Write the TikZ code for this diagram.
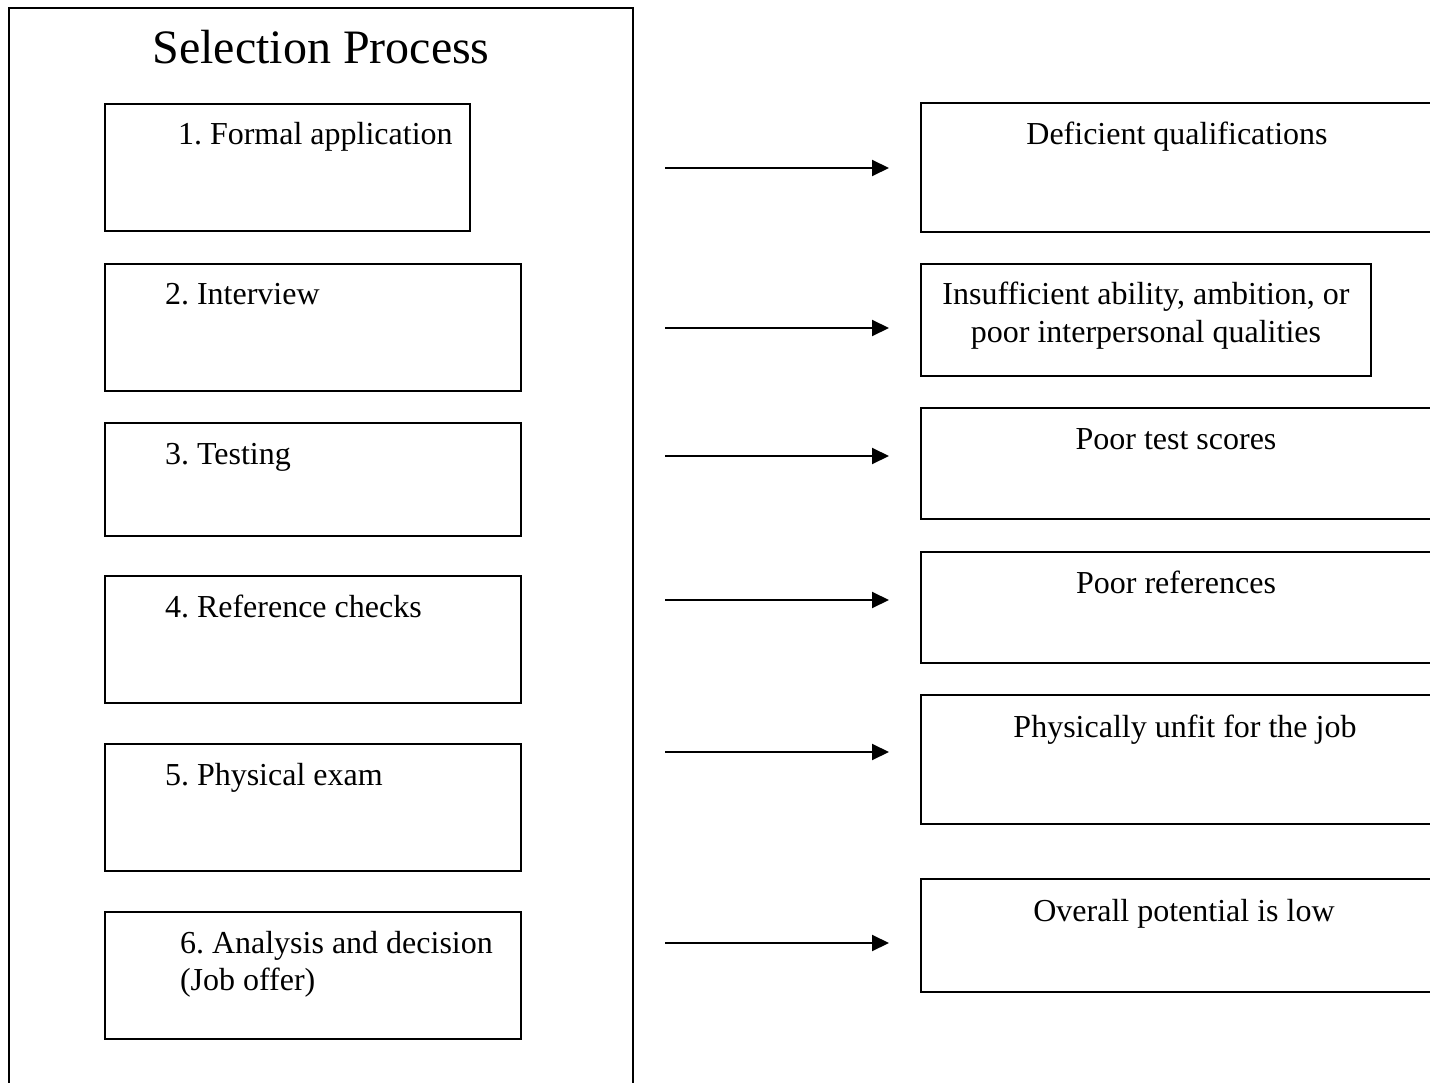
\documentclass[tikz,border=0pt]{standalone}
\usepackage{fontspec}
\setmainfont{Liberation Serif}
\usetikzlibrary{arrows.meta,calc}
\frenchspacing

\tikzset{
  frame/.style={draw=black, line width=1.9pt, inner sep=0pt, outer sep=0pt, rectangle},
  label32/.style={inner sep=0pt, outer sep=0pt, font=\fontsize{32}{37}\selectfont},
  arr/.style={line width=2pt, -{Triangle[length=17pt,width=16pt]}},
}

\begin{document}
\begin{tikzpicture}[x=1pt,y=-1pt]
  \clip (0,0) rectangle (1430,1083);
  \fill[white] (0,0) rectangle (1430,1083);

  % outer frame of the process column (runs off the bottom)
  \node[frame, minimum width=624pt, minimum height=1100pt] (outer) at (321,558) {};
  \node[inner sep=0pt, font=\fontsize{48}{55}\selectfont, anchor=base] (title) at (321,64) {Selection Process};

  % process steps
  \node[frame, minimum width=365pt, minimum height=127pt] (s1) at (287.5,167.5) {};
  \node[frame, minimum width=416pt, minimum height=127pt] (s2) at (313,327.5) {};
  \node[frame, minimum width=416pt, minimum height=113pt] (s3) at (313,479.5) {};
  \node[frame, minimum width=416pt, minimum height=127pt] (s4) at (313,639.5) {};
  \node[frame, minimum width=416pt, minimum height=127pt] (s5) at (313,807.5) {};
  \node[frame, minimum width=416pt, minimum height=127pt] (s6) at (313,975.5) {};

  \node[label32, anchor=base west] (t1) at ($(s1.north west)+(73,41)$) {1. Formal application};
  \node[label32, anchor=base west] (t2) at ($(s2.north west)+(60,41)$) {2. Interview};
  \node[label32, anchor=base west] (t3) at ($(s3.north west)+(60,41)$) {3. Testing};
  \node[label32, anchor=base west] (t4) at ($(s4.north west)+(60,41)$) {4. Reference checks};
  \node[label32, anchor=base west] (t5) at ($(s5.north west)+(60,41)$) {5. Physical exam};
  % two-line label: base is the baseline of its last line
  \node[label32, anchor=base west, align=left] (t6) at ($(s6.north west)+(75,78)$) {6. Analysis and decision\\(Job offer)};

  % rejection reasons (boxes run off the right edge)
  \node[frame, minimum width=512pt, minimum height=129pt] (r1) at (1177,167.5) {};
  \node[frame, minimum width=450pt, minimum height=112pt] (r2) at (1146,320) {};
  \node[frame, minimum width=512pt, minimum height=111pt] (r3) at (1177,463.5) {};
  \node[frame, minimum width=512pt, minimum height=111pt] (r4) at (1177,607.5) {};
  \node[frame, minimum width=512pt, minimum height=129pt] (r5) at (1177,759.5) {};
  \node[frame, minimum width=512pt, minimum height=113pt] (r6) at (1177,935.5) {};

  \node[label32, anchor=base] (u1) at ($(r1.north)+(0,42)$) {Deficient qualifications};
  \node[label32, anchor=base, align=center] (u2) at ($(r2.north)+(0,78)$) {Insufficient ability, ambition, or\\poor interpersonal qualities};
  \node[label32, anchor=base] (u3) at ($(r3.north)+(-1,41)$) {Poor test scores};
  \node[label32, anchor=base] (u4) at ($(r4.north)+(-1,41)$) {Poor references};
  \node[label32, anchor=base] (u5) at ($(r5.north)+(8,42)$) {Physically unfit for the job};
  \node[label32, anchor=base] (u6) at ($(r6.north)+(7,42)$) {Overall potential is low};

  % arrow tails, just right of the process frame
  \coordinate (a1) at (665,168);
  \coordinate (a2) at (665,328);
  \coordinate (a3) at (665,456);
  \coordinate (a4) at (665,600);
  \coordinate (a5) at (665,752);
  \coordinate (a6) at (665,943);

  \draw[arr, shorten >=32pt] (a1) -- (r1.west |- a1);
  \draw[arr, shorten >=32pt] (a2) -- (r2.west |- a2);
  \draw[arr, shorten >=32pt] (a3) -- (r3.west |- a3);
  \draw[arr, shorten >=32pt] (a4) -- (r4.west |- a4);
  \draw[arr, shorten >=32pt] (a5) -- (r5.west |- a5);
  \draw[arr, shorten >=32pt] (a6) -- (r6.west |- a6);
\end{tikzpicture}
\end{document}
